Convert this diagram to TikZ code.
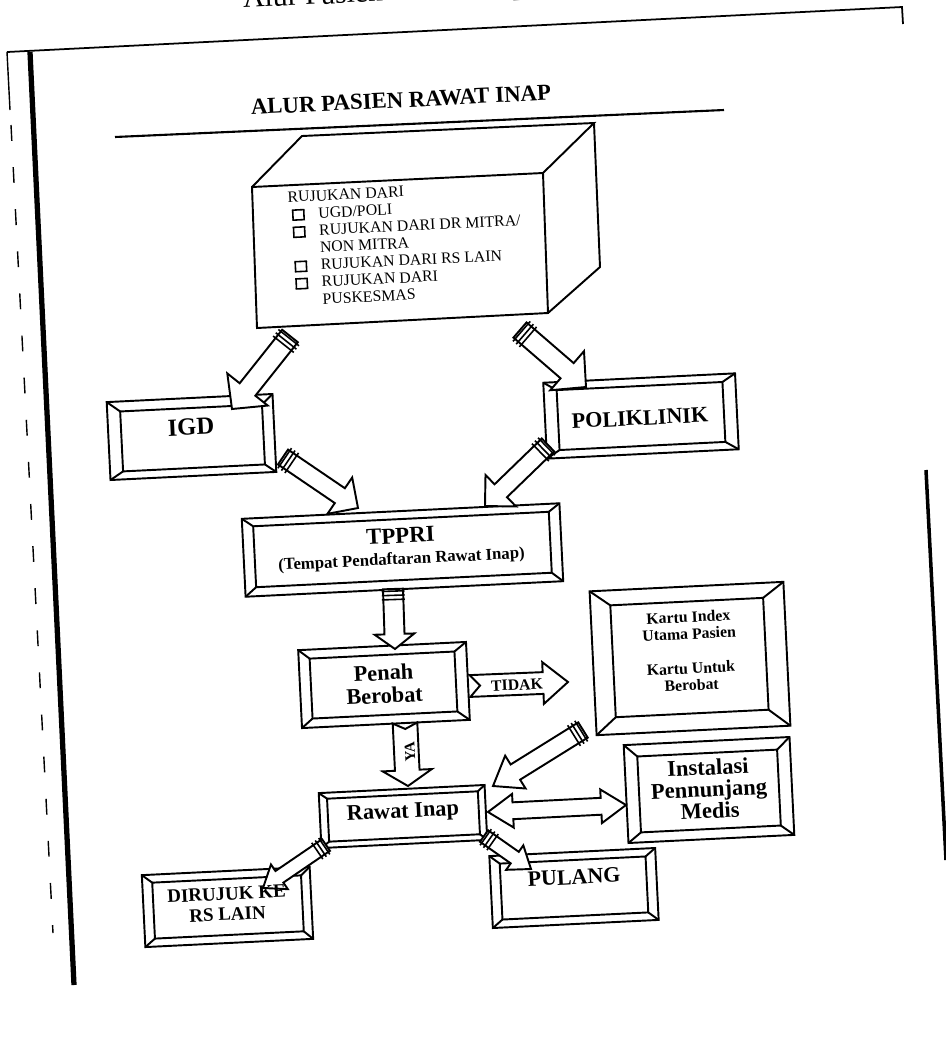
\documentclass[tikz,border=0pt]{standalone}
\usepackage{fontspec}
\setmainfont{Liberation Serif}
\usetikzlibrary{calc}
\newcommand{\pgrot}{2.8}
\newcommand{\fs}[2]{\fontsize{#1}{#2}\selectfont}
\tikzset{
  boxline/.style={line width=1.1pt, line join=miter},
  arrowline/.style={line width=1.1pt, line join=miter, miter limit=20, fill=white},
  ringline/.style={line width=0.9pt},
  btext/.style={align=center, inner sep=0pt, rotate=\pgrot},
}
\newcommand{\chk}{{\setlength{\fboxsep}{0pt}\setlength{\fboxrule}{0.9pt}\fbox{\rule{0pt}{4.8pt}\hspace{5.4pt}}}}
% bevel box: name, cx, cy, half width, half height, bevel left, top, right, bottom
\newcommand{\bevelbox}[9]{%
  \begin{scope}[shift={(#2,#3)}, rotate=\pgrot]
    \coordinate (#1) at (0,0);
    \draw[boxline] (-#4,-#5) -- (#4,-#5) -- (#4,#5) -- (-#4,#5) -- cycle;
    \draw[boxline] (-#4+#6,-#5+#7) -- (#4-#8,-#5+#7) -- (#4-#8,#5-#9) -- (-#4+#6,#5-#9) -- cycle;
    \draw[boxline] (-#4,-#5) -- (-#4+#6,-#5+#7)
                   (#4,-#5) -- (#4-#8,-#5+#7)
                   (#4,#5) -- (#4-#8,#5-#9)
                   (-#4,#5) -- (-#4+#6,#5-#9);
  \end{scope}}
% block arrow: from, to, shaft half width, head half width, head length, tail notch
\newcommand{\fatarrow}[6]{%
  \coordinate (fa-h) at ($(#2)!#5!(#1)$);
  \coordinate (fa-n) at ($(#1)!#6!(#2)$);
  \draw[arrowline] ($(#1)!#3!90:(#2)$) -- ($(fa-h)!#3!90:(#2)$) -- ($(fa-h)!#4!90:(#2)$)
     -- (#2) -- ($(fa-h)!#4!-90:(#2)$) -- ($(fa-h)!#3!-90:(#2)$) -- ($(#1)!#3!-90:(#2)$)
     -- (fa-n) -- cycle;}
% rings at the tail: from, to, half width
\newcommand{\rings}[3]{%
  \foreach \rr in {1.2pt,3.6pt,6pt}{%
    \coordinate (fa-r) at ($(#1)!\rr!(#2)$);
    \draw[ringline] ($(fa-r)!#3!90:(#2)$) -- ($(fa-r)!#3!-90:(#2)$);
  }}
% double block arrow: a, b, shaft half width, head half width, head length
\newcommand{\dblarrow}[5]{%
  \coordinate (da-ha) at ($(#1)!#5!(#2)$);
  \coordinate (da-hb) at ($(#2)!#5!(#1)$);
  \draw[arrowline] (#1) -- ($(da-ha)!#4!90:(#2)$) -- ($(da-ha)!#3!90:(#2)$)
     -- ($(da-hb)!#3!-90:(#1)$) -- ($(da-hb)!#4!-90:(#1)$) -- (#2)
     -- ($(da-hb)!#4!90:(#1)$) -- ($(da-hb)!#3!90:(#1)$)
     -- ($(da-ha)!#3!-90:(#2)$) -- ($(da-ha)!#4!-90:(#2)$) -- cycle;}

\begin{document}
\begin{tikzpicture}[x=0.02cm, y=-0.02cm]
\fill[white] (0,0) rectangle (946,1063);
\useasboundingbox (0,0) rectangle (946,1063);

% cut-off caption at the top
\node[anchor=base west, inner sep=0pt, rotate=\pgrot, font=\fs{17}{17}] (caption) at (243,8) {Alur Pasien Rawat Inap};

% page frame of the scan
\draw[line width=1pt] (7,52) -- (902,7) -- (903,24);
\draw[line width=3pt] (30,52) -- (74,985);
\draw[line width=0.8pt] (7,52) -- (10,110);
\draw[line width=0.8pt, dash pattern=on 9pt off 15pt] (11,125) -- (53,933);
\draw[line width=2pt] (926,470) -- (946,860);

% title
\node[btext, font=\bfseries\fs{13}{13}] (title) at (401,100) {ALUR PASIEN RAWAT INAP};
\coordinate (ulA) at (115,137);
\coordinate (ulB) at (724,110);
\draw[line width=1.2pt] (ulA) -- (ulB);

% big 3D box
\coordinate (bfTL) at (252,187);
\coordinate (bfTR) at (543,173);
\coordinate (bfBR) at (548,313);
\coordinate (bfBL) at (257,328);
\coordinate (bbTL) at (302,136);
\coordinate (bbTR) at (594,123);
\coordinate (bbBR) at (600,267);
\draw[boxline] (bfTL) -- (bfTR) -- (bfBR) -- (bfBL) -- cycle;
\draw[boxline] (bfTL) -- (bbTL) -- (bbTR) -- (bfTR);
\draw[boxline] (bbTR) -- (bbBR) -- (bfBR);

% bevelled boxes
\bevelbox{igd}{191.5}{437}{83}{39}{13}{10}{11}{8}
\bevelbox{poli}{641}{416}{96}{38}{13}{8}{13}{8}
\bevelbox{tppri}{402.5}{550}{159}{39}{11}{8}{11}{9}
\bevelbox{penah}{384}{685}{84}{39}{11}{9}{12}{9}
\bevelbox{kartu}{690}{658.5}{97}{72}{20}{15}{21}{17}
\bevelbox{instal}{709}{790}{83}{49}{13}{12}{13}{10}
\bevelbox{rawat}{403}{816.5}{83}{27.5}{8}{6}{7}{6}
\bevelbox{pulang}{574}{888}{83}{36}{10}{8}{10}{8}
\bevelbox{rujuk}{227.5}{907}{84}{36}{10}{8}{9}{8}

% arrow end points
\coordinate (a1s) at (290,336);  \coordinate (a1e) at (232,409);
\coordinate (a2s) at (520,330);  \coordinate (a2e) at (586,387);
\coordinate (a3s) at (283,457);  \coordinate (a3e) at (358,508);
\coordinate (a4s) at (548,445);  \coordinate (a4e) at (485,506);
\coordinate (a5s) at (393,589);  \coordinate (a5e) at (395,649);
\coordinate (a6s) at (470,686);  \coordinate (a6e) at (568,682);
\coordinate (a7s) at (405,723);  \coordinate (a7e) at (408,786);
\coordinate (a8s) at (583,730);  \coordinate (a8e) at (493,786);
\coordinate (a9s) at (488,812);  \coordinate (a9e) at (626,805);
\coordinate (a10s) at (326,845); \coordinate (a10e) at (263,888);
\coordinate (a11s) at (484,836); \coordinate (a11e) at (531,869);

% arrows
\fatarrow{a1s}{a1e}{5.7pt}{14.7pt}{14.2pt}{0pt}
\rings{a1s}{a1e}{7.5pt}
\fatarrow{a2s}{a2e}{5.7pt}{14.7pt}{14.2pt}{0pt}
\rings{a2s}{a2e}{7.5pt}
\fatarrow{a3s}{a3e}{5.1pt}{12.5pt}{12.5pt}{0pt}
\rings{a3s}{a3e}{6.9pt}
\fatarrow{a4s}{a4e}{5.1pt}{12.5pt}{12.5pt}{0pt}
\rings{a4s}{a4e}{6.9pt}
\fatarrow{a5s}{a5e}{5.7pt}{11.3pt}{8.5pt}{0pt}
\rings{a5s}{a5e}{6.5pt}
\fatarrow{a6s}{a6e}{6.2pt}{11.9pt}{14.2pt}{5.7pt}
\fatarrow{a7s}{a7e}{7pt}{14pt}{9pt}{3.4pt}
\fatarrow{a8s}{a8e}{5.1pt}{11pt}{15pt}{0pt}
\rings{a8s}{a8e}{6.9pt}
\dblarrow{a9s}{a9e}{4.8pt}{9.6pt}{14.2pt}
\fatarrow{a10s}{a10e}{4pt}{8.5pt}{11.3pt}{0pt}
\rings{a10s}{a10e}{5.6pt}
\fatarrow{a11s}{a11e}{4pt}{8.5pt}{11.3pt}{0pt}
\rings{a11s}{a11e}{5.6pt}

% texts
\node[anchor=north west, inner sep=0pt, rotate=\pgrot, font=\fs{9}{9.8}] (src) at (287,190) {%
  \begin{tabular}{@{}l@{\hspace{7.8pt}}l@{}}
  \multicolumn{2}{@{}l@{}}{RUJUKAN DARI}\\
  \hspace{2pt}\chk & UGD/POLI\\
  \hspace{2pt}\chk & RUJUKAN DARI DR MITRA/\\
   & NON MITRA\\
  \hspace{2pt}\chk & RUJUKAN DARI RS LAIN\\
  \hspace{2pt}\chk & RUJUKAN DARI\\
   & PUSKESMAS
  \end{tabular}};
\node[btext, font=\bfseries\fs{14}{14}] (igd-t) at (191,427) {IGD};
\node[btext, font=\bfseries\fs{12.6}{13}] (poli-t) at (640,418) {POLIKLINIK};
\node[btext, font=\bfseries\fs{13}{12}] (tppri-t) at (401,548) {TPPRI\\{\fs{9.5}{11}\bfseries (Tempat Pendaftaran Rawat Inap)}};
\node[btext, font=\bfseries\fs{12.7}{13}] (penah-t) at (384,684) {Penah\\Berobat};
\node[btext, font=\bfseries\fs{9}{9}] (tidak-t) at (517,685) {TIDAK};
\node[btext, font=\bfseries\fs{9}{9.6}] (kartu-t) at (690,651) {Kartu Index\\Utama Pasien\\[10pt]Kartu Untuk\\Berobat};
\node[btext, rotate=90, font=\bfseries\fs{8.5}{8.5}] (ya-t) at (410,752) {YA};
\node[btext, font=\bfseries\fs{12.8}{12.4}] (instal-t) at (709,789) {Instalasi\\Pennunjang\\Medis};
\node[btext, font=\bfseries\fs{12.7}{13}] (rawat-t) at (403,813) {Rawat Inap};
\node[btext, font=\bfseries\fs{12.5}{13}] (pulang-t) at (574,877) {PULANG};
\node[btext, font=\bfseries\fs{10.8}{11.6}] (rujuk-t) at (227,904) {DIRUJUK KE\\RS LAIN};
\end{tikzpicture}
\end{document}
